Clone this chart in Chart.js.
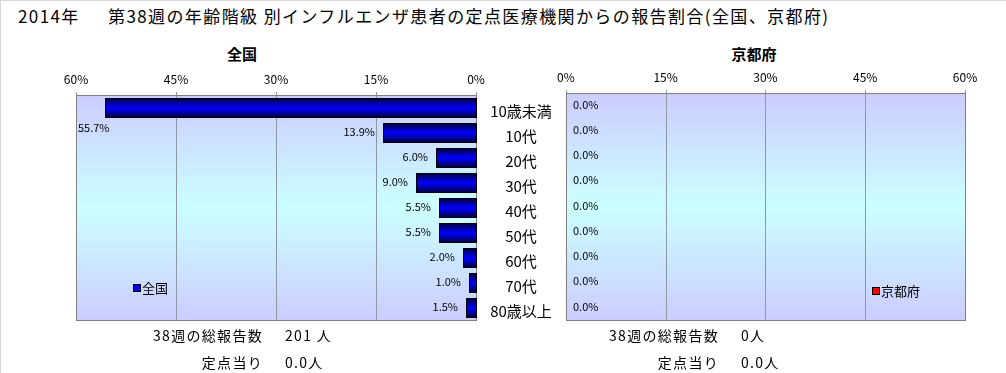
<!DOCTYPE html>
<html lang="ja">
<head>
<meta charset="utf-8">
<script src="https://cdn.jsdelivr.net/npm/chart.js@4"></script>
<style>
  html, body { margin: 0; padding: 0; background: #fff; }
  body {
    width: 1006px; height: 373px; position: relative; overflow: hidden;
    font-family: "Noto Sans CJK JP", "Noto Sans", sans-serif; color: #000;
    border-top: 1px solid #d8d8d8; border-left: 1px solid #d8d8d8; box-sizing: border-box;
  }
  .abs { position: absolute; white-space: nowrap; line-height: 1; }
  .title { font-size: 17px; top: 6px; letter-spacing: 1.4px; }
  .sub { font-size: 15px; font-weight: bold; top: 45px; transform: translateX(-50%); }
  .note { font-size: 14px; letter-spacing: 1.3px; }
  .note.r { text-align: right; }
  .legend { font-size: 13px; display: flex; align-items: center; }
  .legend i { display: inline-block; width: 6px; height: 6px; border: 1px solid #000; margin-right: 1px; }
  canvas { position: absolute; top: 0; }
</style>
</head>
<body>

<div class="abs title" style="left:17px;">2014年</div>
<div class="abs title" style="left:107px;">第38週の年齢階級 別インフルエンザ患者の定点医療機関からの報告割合(全国、京都府)</div>

<div class="abs sub" style="left:241px;">全国</div>
<div class="abs sub" style="left:753px;">京都府</div>

<canvas id="zenkokuChart" width="560" height="373" style="left:0;"></canvas>
<canvas id="kyotoChart" width="458" height="373" style="left:548px;"></canvas>

<div class="abs legend" style="left:132px; top:280px;"><i style="background:#0000ff;"></i>全国</div>
<div class="abs legend" style="left:871px; top:283px;"><i style="background:#ff0000;"></i>京都府</div>

<div class="abs note r" style="right:743px; top:327px;">38週の総報告数</div>
<div class="abs note" style="left:284px; top:327px;">201 人</div>
<div class="abs note r" style="right:743px; top:354px;">定点当り</div>
<div class="abs note" style="left:284px; top:354px;">0.0人</div>

<div class="abs note r" style="right:287px; top:327px;">38週の総報告数</div>
<div class="abs note" style="left:740px; top:327px;">0人</div>
<div class="abs note r" style="right:287px; top:354px;">定点当り</div>
<div class="abs note" style="left:740px; top:354px;">0.0人</div>

<script>
// ── data ──
const ageGroups = ['10歳未満', '10代', '20代', '30代', '40代', '50代', '60代', '70代', '80歳以上'];
const zenkokuPct = [55.7, 13.9, 6.0, 9.0, 5.5, 5.5, 2.0, 1.0, 1.5];
const kyotoPct   = [0, 0, 0, 0, 0, 0, 0, 0, 0];
const pctTicks   = [0, 15, 30, 45, 60];

const FONT = '"Noto Sans CJK JP", "Noto Sans", sans-serif';

/* ════════════════════════════
   PLUGINS
════════════════════════════ */

// lavender -> cyan -> lavender plot background plus grey frame
const plotBgPlugin = {
  id: 'plotBg',
  beforeDatasetsDraw(chart) {
    const { ctx, chartArea: a } = chart;
    const g = ctx.createLinearGradient(0, a.top, 0, a.bottom);
    g.addColorStop(0, '#ccccff');
    g.addColorStop(0.5, '#ccffff');
    g.addColorStop(1, '#ccccff');
    ctx.save();
    ctx.fillStyle = g;
    ctx.fillRect(a.left, a.top, a.right - a.left, a.bottom - a.top);
    // grid lines on top of the fill
    const xs = chart.scales.x;
    ctx.strokeStyle = '#8c98a4';
    ctx.lineWidth = 1;
    pctTicks.forEach(v => {
      const px = Math.round(xs.getPixelForValue(v)) + 0.5;
      ctx.beginPath();
      ctx.moveTo(px, a.top - 3);
      ctx.lineTo(px, a.bottom);
      ctx.stroke();
    });
    ctx.strokeStyle = '#808080';
    ctx.strokeRect(Math.round(a.left) + 0.5, Math.round(a.top) + 0.5,
      Math.round(a.right - a.left), Math.round(a.bottom - a.top));
    ctx.restore();
  }
};

// cylinder-like shaded bars + value labels
const shadedBarsPlugin = {
  id: 'shadedBars',
  afterDatasetsDraw(chart, args, opts) {
    const { ctx, chartArea: a } = chart;
    const meta = chart.getDatasetMeta(0);
    const values = chart.data.datasets[0].data;
    ctx.save();
    ctx.font = '11px ' + FONT;
    ctx.textBaseline = 'middle';
    ctx.fillStyle = '#000';
    meta.data.forEach((bar, i) => {
      const v = values[i];
      const top = Math.round(bar.y - bar.height / 2);
      const bot = Math.round(bar.y + bar.height / 2);
      const x0 = Math.round(Math.min(bar.x, bar.base));
      const x1 = Math.round(Math.max(bar.x, bar.base));
      if (v > 0) {
        const g = ctx.createLinearGradient(0, top, 0, bot);
        g.addColorStop(0, '#000033');
        g.addColorStop(0.5, '#0000ff');
        g.addColorStop(1, '#000033');
        ctx.fillStyle = g;
        ctx.fillRect(x0, top, x1 - x0 + 1, bot - top);
        ctx.strokeStyle = '#000';
        ctx.strokeRect(x0 + 0.5, top + 0.5, x1 - x0, bot - top - 1);
        ctx.fillStyle = '#000';
      }
      const txt = v.toFixed(1) + '%';
      if (opts.side === 'left') {
        const w = ctx.measureText(txt).width;
        ctx.textAlign = 'right';
        if (x0 - 8 - w < a.left) {
          // no room left of the bar -> under it, at the plot edge
          ctx.textAlign = 'left';
          ctx.fillText(txt, a.left + 2, bot + 10);
        } else {
          ctx.fillText(txt, x0 - 8, bar.y - 1);
        }
      } else {
        ctx.textAlign = 'left';
        ctx.fillText(txt, x1 + 7, bar.y - 1);
      }
    });
    ctx.restore();
  }
};

// age-group labels between the two panels
const ageLabelPlugin = {
  id: 'ageLabels',
  afterDraw(chart) {
    const { ctx } = chart;
    const ys = chart.scales.y;
    ctx.save();
    ctx.font = '15px ' + FONT;
    ctx.textAlign = 'center';
    ctx.textBaseline = 'middle';
    ctx.fillStyle = '#000';
    ageGroups.forEach((lab, i) => {
      ctx.fillText(lab, 520, ys.getPixelForValue(i) + 4);
    });
    ctx.restore();
  }
};

/* ════════════════════════════
   CHART FACTORY
════════════════════════════ */
function makePanel(id, values, side, padding) {
  const el = document.getElementById(id);
  return new Chart(el, {
    type: 'bar',
    data: {
      labels: ageGroups,
      datasets: [{
        data: values,
        backgroundColor: 'rgba(0,0,0,0)',
        borderWidth: 0,
        barPercentage: 0.8,
        categoryPercentage: 1
      }]
    },
    options: {
      indexAxis: 'y',
      responsive: false,
      animation: false,
      layout: { padding },
      plugins: {
        legend: { display: false },
        tooltip: { enabled: false },
        shadedBars: { side }
      },
      scales: {
        x: {
          position: 'top',
          reverse: side === 'left',
          min: 0,
          max: 60,
          afterBuildTicks: s => { s.ticks = pctTicks.map(v => ({ value: v })); },
          afterFit: s => { s.height = 22; },
          grid: { display: false, drawTicks: false },
          border: { display: false },
          ticks: {
            padding: 8,
            maxRotation: 0,
            color: '#000',
            font: { family: FONT, size: 12 },
            callback: v => v + '%'
          }
        },
        y: {
          display: false,
          offset: true
        }
      }
    },
    plugins: side === 'left'
      ? [plotBgPlugin, shadedBarsPlugin, ageLabelPlugin]
      : [plotBgPlugin, shadedBarsPlugin]
  });
}

makePanel('zenkokuChart', zenkokuPct, 'left', { left: 75, right: 85, top: 72, bottom: 54 });
makePanel('kyotoChart', kyotoPct, 'right', { left: 4, right: 42, top: 70, bottom: 54 });
</script>
</body>
</html>
